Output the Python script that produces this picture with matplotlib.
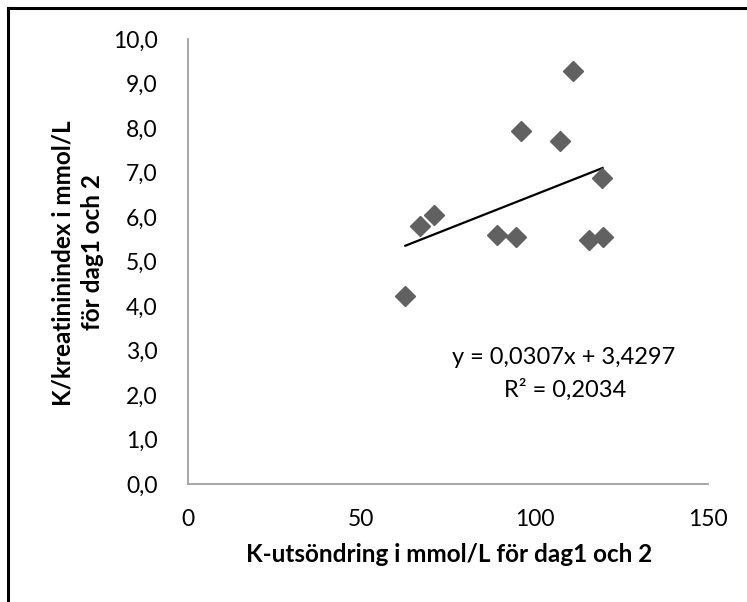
import matplotlib
matplotlib.use("Agg")
import matplotlib.pyplot as plt
from matplotlib.lines import Line2D
import numpy as np

plt.rcParams['font.family'] = ['Lato', 'DejaVu Sans']

# K-utsöndring (x) och K/kreatininindex (y)
k_utsondring = [62.7, 66.9, 71.0, 89.2, 94.6, 96.2, 107.2, 111.1, 115.7, 119.6, 119.4]
k_kreat_index = [4.22, 5.80, 6.04, 5.60, 5.55, 7.94, 7.71, 9.27, 5.48, 5.54, 6.87]

# trendlinje enligt etiketten
slope = 0.0307
intercept = 3.4297
r2 = 0.2034

x_ticks = [0, 50, 100, 150]
y_ticks = np.arange(0, 10.5, 1.0)

W, H = 747, 602
fig = plt.figure(figsize=(W / 100, H / 100), dpi=100)
ax = fig.add_axes([188 / W, 1 - 484 / H, (708 - 188) / W, (484 - 39) / H])

marker_col = '#616161'
ax.plot(k_utsondring, k_kreat_index, linestyle='none', marker='D', ms=10.5,
        color=marker_col, mec=marker_col, zorder=3)

# linjär trendlinje över datans x-intervall
xt = np.array([min(k_utsondring), max(k_utsondring)])
ax.plot(xt, slope * xt + intercept, color='black', lw=1.6, zorder=2)

ax.set_xlim(0, 150)
ax.set_ylim(0, 10)
ax.set_xticks(x_ticks)
ax.set_xticklabels([str(v) for v in x_ticks])
ax.set_yticks(y_ticks)
ax.set_yticklabels([f"{v:.1f}".replace('.', ',') for v in y_ticks])
ax.tick_params(length=0, labelsize=16.5, colors='black')
ax.tick_params(axis='x', pad=18)
ax.tick_params(axis='y', pad=22)

for s in ['top', 'right']:
    ax.spines[s].set_visible(False)
for s in ['left', 'bottom']:
    ax.spines[s].set_color('#a0a0a0')
    ax.spines[s].set_linewidth(1.3)

eq = f"y = {slope:.4f}x + {intercept:.4f}".replace('.', ',')
r2txt = f"R² = {r2:.4f}".replace('.', ',')
fig.text(564 / W, 1 - 357 / H, eq, ha='center', va='center', fontsize=17)
fig.text(565 / W, 1 - 390 / H, r2txt, ha='center', va='center', fontsize=17)

fig.text(449 / W, 1 - 554 / H, "K-utsöndring i mmol/L för dag1 och 2",
         ha='center', va='center', fontsize=17.5, fontweight='bold')
# y-axelns titel i två rader
fig.text(63 / W, 1 - 263 / H, "K/kreatininindex i mmol/L",
         ha='center', va='center', rotation=90, fontsize=17.5, fontweight='bold')
fig.text(93 / W, 1 - 252 / H, "för dag1 och 2",
         ha='center', va='center', rotation=90, fontsize=17.5, fontweight='bold')

# ram runt diagrammet (överkant och vänsterkant syns)
fig.add_artist(Line2D([8 / W, 1.0], [1 - 8 / H, 1 - 8 / H], color='black', lw=2.2,
                      transform=fig.transFigure))
fig.add_artist(Line2D([8 / W, 8 / W], [0.0, 1 - 8 / H], color='black', lw=2.2,
                      transform=fig.transFigure))

fig.savefig("out.png", dpi=100)
